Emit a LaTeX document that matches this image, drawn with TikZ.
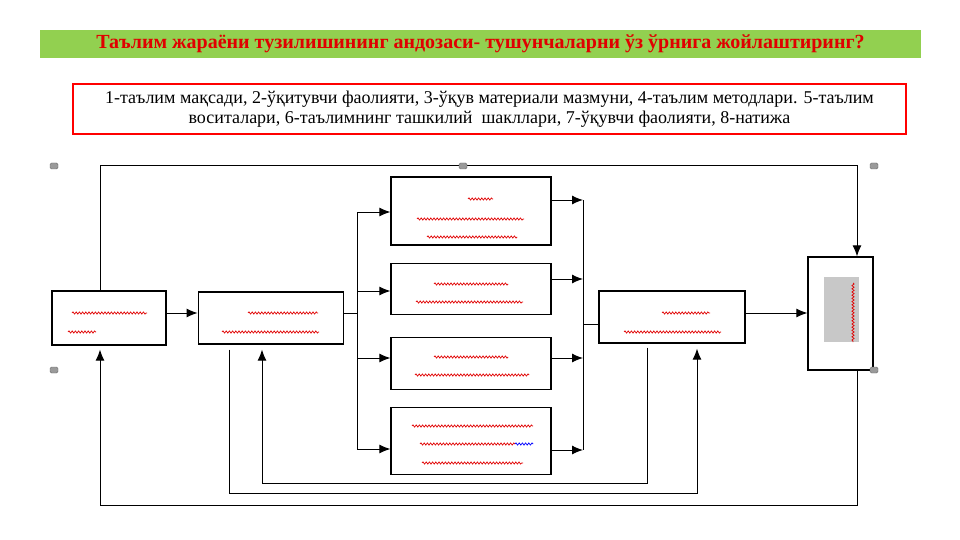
\documentclass[tikz,border=0pt]{standalone}
\usepackage{fontspec}
\setmainfont{Liberation Serif}
\usepackage{xcolor}
\usepackage{tikz}
\usetikzlibrary{arrows.meta,positioning,decorations.pathmorphing}
\definecolor{hdgreen}{HTML}{92D050}
\definecolor{hdred}{HTML}{E00000}
\definecolor{hdgray}{HTML}{C8C8C8}
\definecolor{hdhandle}{HTML}{9A9A9A}
\begin{document}
\begin{tikzpicture}[
 x=1pt, y=-1pt, >=Latex, line width=1pt,
 arr/.style={-{Latex[length=11pt,width=9pt]}},
 blank/.style={draw,line width=1.2pt,inner sep=0pt},
 wavy/.style={hdred,line width=0.7pt,decorate,decoration={snake,amplitude=1.1pt,segment length=3.2pt}},
 handle/.style={draw=hdhandle!70!black,fill=hdhandle,rounded corners=1.5pt,line width=0.4pt,minimum width=8pt,minimum height=6pt,inner sep=0pt}
]
\useasboundingbox (0,0) rectangle (960,540);
% heading and word list
\node[fill=hdgreen,minimum width=881pt,minimum height=28pt,inner sep=0pt,text=hdred,font=\bfseries\fontsize{20}{22}\selectfont] (title) at (480.5,44)
 {Таълим жараёни тузилишининг андозаси- тушунчаларни ўз ўрнига жойлаштиринг?};
\node[draw=red,line width=1.5pt,minimum width=833pt,minimum height=50pt,align=center,inner sep=0pt,font=\fontsize{18}{19.5}\selectfont] (terms) at (489.5,109)
 {1-таълим мақсади, 2-ўқитувчи фаолияти, 3-ўқув материали мазмуни, 4-таълим методлари. 5-таълим\\
 воситалари, 6-таълимнинг ташкилий\ \ шакллари, 7-ўқувчи фаолияти, 8-натижа};
% blocks
\node[blank,minimum width=114pt,minimum height=54pt] (b1) at (109,318) {};
\node[blank,minimum width=145pt,minimum height=52pt,right=31pt of b1] (b2) {};
\node[blank,minimum width=160pt,minimum height=68pt] (b3) at (471,211) {};
\node[blank,minimum width=160pt,minimum height=51pt,below=17pt of b3] (b4) {};
\node[blank,minimum width=160pt,minimum height=52pt,below=22pt of b4] (b5) {};
\node[blank,minimum width=160pt,minimum height=67pt,below=17pt of b5] (b6) {};
\node[blank,minimum width=146pt,minimum height=52pt] (b7) at (672,317) {};
\node[blank,minimum width=65pt,minimum height=113pt] (b8) at (840.5,313.5) {};
\fill[hdgray] (824,277) rectangle (859,342);
% empty answer lines
\draw[wavy] (72,313) -- (147,313);
\draw[wavy] (68,332) -- (96,332);
\draw[wavy] (248,313) -- (318,313);
\draw[wavy] (222,332) -- (319,332);
\draw[wavy] (468,199) -- (493,199);
\draw[wavy] (417,219) -- (524,219);
\draw[wavy] (427,237) -- (517,237);
\draw[wavy] (434,284) -- (508,284);
\draw[wavy] (416,302) -- (523,302);
\draw[wavy] (434,357) -- (508,357);
\draw[wavy] (415,375) -- (529,375);
\draw[wavy] (412,426) -- (533,426);
\draw[wavy] (420,444) -- (515,444);
\draw[wavy,blue] (515,444) -- (533,444);
\draw[wavy] (422,463) -- (523,463);
\draw[wavy] (662,313) -- (710,313);
\draw[wavy] (624,332) -- (721,332);
\draw[wavy] (853,283) -- (853,342);
% buses
\coordinate (busLtop) at (357,212);
\coordinate (busLbot) at (357,449);
\coordinate (busRtop) at (583,200);
\coordinate (busRbot) at (583,450);
\draw (busLtop) -- (busLbot);
\draw (busRtop) -- (busRbot);
\draw[arr] (b1.east |- 0,313) -- (b2.west |- 0,313);
\draw (b2.east |- 0,313) -- (busLtop |- 0,313);
\foreach \n/\yi/\yo in {b3/212/200, b4/291/279, b5/358/358, b6/449/450} {
 \draw[arr] (busLtop |- 0,\yi) -- (\n.west |- 0,\yi);
 \draw[arr] (\n.east |- 0,\yo) -- (busRtop |- 0,\yo);
}
\draw (busRtop |- 0,324) -- (b7.west |- 0,324);
\draw[arr] (b7.east |- 0,313) -- (b8.west |- 0,313);
% feedback loops
\coordinate (tl) at (100,166);
\coordinate (tr) at (857,166);
\coordinate (bl) at (100,505);
\coordinate (br) at (857,505);
\draw[arr] (b1.north -| tl) -- (tl) -- (tr) -- (b8.north -| tr);
\draw[arr] (b8.south -| br) -- (br) -- (bl) -- ([yshift=-4pt]b1.south -| bl);
\coordinate (la1) at (647,483);
\coordinate (la2) at (262,483);
\draw[arr] ([yshift=-4pt]b7.south -| la1) -- (la1) -- (la2) -- ([yshift=-5pt]b2.south -| la2);
\coordinate (lb1) at (229,493);
\coordinate (lb2) at (697,493);
\draw[arr] ([yshift=-5pt]b2.south -| lb1) -- (lb1) -- (lb2) -- ([yshift=-5pt]b7.south -| lb2);
% selection handles
\node[handle] (h1) at (54,166) {};
\node[handle] (h2) at (463,166) {};
\node[handle] (h3) at (874,166) {};
\node[handle] (h4) at (54,370) {};
\node[handle] (h5) at (874,370) {};
\end{tikzpicture}
\end{document}
